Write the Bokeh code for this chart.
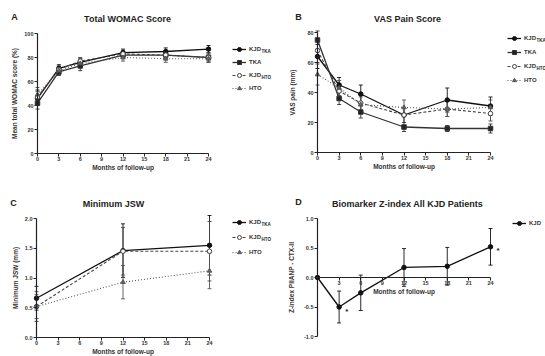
from bokeh.plotting import figure
from bokeh.models import (Range1d, LinearAxis, FixedTicker, Whisker, ColumnDataSource,
                          Legend, LegendItem, Label, TeeHead)
from bokeh.layouts import gridplot
from bokeh.core.properties import value
from bokeh.embed import file_html
from bokeh.resources import INLINE

FONT = "Liberation Sans"

# ---------------- data ----------------
months = [0, 3, 6, 12, 18, 24]
months_jsw = [0, 12, 24]
x_ticks = [0, 3, 6, 9, 12, 15, 18, 21, 24]
x_tick_labels = ["0", "3", "6", "9", "12", "15", "18", "21", "24"]
x_tick_labels_d = ["", "3", "6", "9", "12", "15", "18", "21", "24"]

# Panel A: Total WOMAC score (%)
womac_kjd_tka = [46, 71, 76, 84, 85, 87]
womac_tka = [42, 68, 73, 82, 82, 80]
womac_kjd_hto = [47, 70, 77, 83, 82, 80]
womac_hto = [49, 69, 75, 80, 79, 79]
womac_kjd_tka_err = [6, 3, 3, 3, 3, 3]
womac_tka_err = [5, 3, 4, 3, 3, 3]
womac_kjd_hto_err = [6, 3, 3, 3, 4, 4]
womac_hto_err = [6, 3, 3, 3, 3, 3]
womac_y_ticks = [0, 20, 40, 60, 80, 100]
womac_y_labels = ["0", "20", "40", "60", "80", "100"]

# Panel B: VAS pain (mm)
vas_kjd_tka = [64, 45, 39, 25, 35, 31]
vas_tka = [75, 36, 27, 17, 16, 16]
vas_kjd_hto = [68, 41, 33, 25, 29, 26]
vas_hto = [52, 43, 32, 30, 29, 30]
vas_kjd_tka_err = [8, 5, 6, 5, 8, 6]
vas_tka_err = [6, 4, 4, 3, 2, 3]
vas_kjd_hto_err = [8, 5, 5, 5, 5, 5]
vas_hto_err = [7, 5, 5, 5, 5, 5]
vas_y_ticks = [0, 20, 40, 60, 80]
vas_y_labels = ["0", "20", "40", "60", "80"]

# Panel C: Minimum JSW (mm)
jsw_kjd_tka = [0.66, 1.46, 1.55]
jsw_kjd_hto = [0.52, 1.45, 1.45]
jsw_hto = [0.52, 0.93, 1.12]
jsw_kjd_tka_err = [0.2, 0.45, 0.5]
jsw_kjd_hto_err = [0.25, 0.4, 0.5]
jsw_hto_err = [0.2, 0.28, 0.3]
jsw_y_ticks = [0.0, 0.5, 1.0, 1.5, 2.0]
jsw_y_labels = ["0.0", "0.5", "1.0", "1.5", "2.0"]

# Panel D: Biomarker Z-index
z_kjd = [0.0, -0.50, -0.26, 0.17, 0.19, 0.52]
z_kjd_err = [0.0, 0.27, 0.3, 0.32, 0.32, 0.31]
z_signif_months = [3, 24]
z_y_ticks = [-1.0, -0.5, 0.0, 0.5, 1.0]
z_y_labels = ["-1.0", "-0.5", "0.0", "0.5", "1.0"]

# ---------------- styles ----------------
ST = {
    "KJD_TKA": dict(marker="circle", fill="#111111", color="#111111", dash="solid", width=1.3),
    "TKA": dict(marker="square", fill="#222222", color="#333333", dash="solid", width=1.3),
    "KJD_HTO": dict(marker="circle", fill="white", color="#444444", dash="3 2", width=1.1),
    "HTO": dict(marker="triangle", fill="#666666", color="#555555", dash="1 2", width=1.1),
    "KJD": dict(marker="circle", fill="#111111", color="#111111", dash="solid", width=1.3),
}


def make_panel(w, h, x0px, x24px, ylo, ylo_px, yhi, yhi_px, y_ticks, y_labels, ylabel,
               ylabel_standoff, x_fixed, xlabels):
    sx = (x24px - x0px) / 24.0
    sy = (ylo_px - yhi_px) / float(yhi - ylo)
    xr = Range1d(0 - x0px / sx, 24 + (w - x24px) / sx)
    yr = Range1d(ylo - (h - ylo_px) / sy, yhi + yhi_px / sy)
    p = figure(width=w, height=h, x_range=xr, y_range=yr,
               x_axis_type=None, y_axis_type=None, output_backend="svg",
               toolbar_location=None, min_border=0, min_border_left=0, min_border_right=0,
               min_border_top=0, min_border_bottom=0)
    p.outline_line_color = None
    p.background_fill_color = "white"
    p.border_fill_color = "white"
    xa = LinearAxis(ticker=FixedTicker(ticks=x_ticks), bounds=(0, 24),
                    fixed_location=x_fixed, axis_label="Months of follow-up",
                    major_label_overrides=dict(zip(x_ticks, xlabels)))
    ya = LinearAxis(ticker=FixedTicker(ticks=y_ticks), bounds=(y_ticks[0], y_ticks[-1]),
                    fixed_location=0, axis_label=ylabel,
                    major_label_overrides=dict(zip(y_ticks, y_labels)))
    for ax in (xa, ya):
        ax.axis_line_color = "#222222"
        ax.axis_line_width = 1.2
        ax.major_tick_line_color = "#222222"
        ax.major_tick_line_width = 1.0
        ax.major_tick_out = 3
        ax.major_tick_in = 0
        ax.minor_tick_out = 0
        ax.minor_tick_in = 0
        ax.major_label_text_font = FONT
        ax.major_label_text_font_size = "5.5px"
        ax.major_label_text_font_style = "bold"
        ax.major_label_text_color = "#333333"
        ax.major_label_standoff = 1
        ax.axis_label_text_font = FONT
        ax.axis_label_text_font_size = "6.5px"
        ax.axis_label_text_font_style = "bold"
        ax.axis_label_text_color = "#333333"
    xa.major_label_standoff = 0
    xa.axis_label_standoff = 0
    ya.axis_label_standoff = ylabel_standoff
    p.add_layout(xa, "below")
    p.add_layout(ya, "left")
    return p


def add_series(p, xs, ys, errs, key):
    s = ST[key]
    src = ColumnDataSource(dict(x=xs, y=ys,
                                upper=[a + b for a, b in zip(ys, errs)],
                                lower=[a - b for a, b in zip(ys, errs)]))
    wk = Whisker(source=src, base="x", upper="upper", lower="lower",
                 line_color=s["color"], line_width=0.9,
                 upper_head=TeeHead(size=4, line_color=s["color"], line_width=0.9),
                 lower_head=TeeHead(size=4, line_color=s["color"], line_width=0.9))
    p.add_layout(wk)
    lr = p.line(x="x", y="y", source=src, line_color=s["color"], line_width=s["width"],
                line_dash=s["dash"])
    mr = p.scatter(x="x", y="y", source=src, marker=s["marker"], size=4.5,
                   fill_color=s["fill"], line_color=s["color"], line_width=1)
    return [lr, mr]


def canvas_label(p, h, cx, cy, text, size, align="center", bold=True):
    # frame == whole canvas, so screen units are canvas px measured from bottom-left
    p.add_layout(Label(x=cx, y=h - cy, x_units="screen", y_units="screen",
                       text=text, text_font=FONT, text_font_size=size,
                       text_font_style="bold" if bold else "normal",
                       text_align=align, text_baseline="middle", text_color="#222222"))


def add_legend(p, h, entries, renderers, gx, top_y, gh, spacing):
    n = len(entries)
    H = n * gh + (n - 1) * spacing
    items = [LegendItem(label=value(main), renderers=r) for (main, sub), r in zip(entries, renderers)]
    gw, stand = 14, 3
    lg = Legend(items=items, location=(gx, h - (top_y + H)),
                padding=0, margin=0, spacing=spacing, glyph_height=gh, glyph_width=gw,
                label_height=gh, label_standoff=stand, label_text_font=FONT,
                label_text_font_size="6px", label_text_font_style="bold",
                label_text_color="#333333", border_line_color=None,
                background_fill_alpha=0)
    p.add_layout(lg)
    for i, (main, sub) in enumerate(entries):
        if sub:
            cy = top_y + i * (gh + spacing) + gh / 2 + 2
            canvas_label(p, h, gx + gw + stand + 12, cy, sub, "4.5px", align="left")


group_entries = [("KJD", "TKA"), ("TKA", ""), ("KJD", "HTO"), ("HTO", "")]
H = 178

# ---------------- Panel A ----------------
pA = make_panel(272, H, 37, 208, 0, 153, 100, 33, womac_y_ticks, womac_y_labels,
                "Mean total WOMAC score (%)", 3, 0, x_tick_labels)
rA = [add_series(pA, months, womac_kjd_tka, womac_kjd_tka_err, "KJD_TKA"),
      add_series(pA, months, womac_tka, womac_tka_err, "TKA"),
      add_series(pA, months, womac_kjd_hto, womac_kjd_hto_err, "KJD_HTO"),
      add_series(pA, months, womac_hto, womac_hto_err, "HTO")]
canvas_label(pA, H, 127, 18, "Total WOMAC Score", "9px")
canvas_label(pA, H, 14, 16, "A", "9px")
add_legend(pA, H, group_entries, rA, gx=232, top_y=44, gh=10, spacing=3)

# ---------------- Panel B ----------------
pB = make_panel(273, H, 45, 218, 0, 152, 80, 32, vas_y_ticks, vas_y_labels,
                "VAS pain (mm)", 8, 0, x_tick_labels)
rB = [add_series(pB, months, vas_kjd_tka, vas_kjd_tka_err, "KJD_TKA"),
      add_series(pB, months, vas_tka, vas_tka_err, "TKA"),
      add_series(pB, months, vas_kjd_hto, vas_kjd_hto_err, "KJD_HTO"),
      add_series(pB, months, vas_hto, vas_hto_err, "HTO")]
canvas_label(pB, H, 135, 18, "VAS Pain Score", "9px")
canvas_label(pB, H, 26, 16, "B", "9px")
add_legend(pB, H, group_entries, rB, gx=235, top_y=33, gh=10, spacing=4)

# ---------------- Panel C ----------------
pC = make_panel(272, H, 36, 209, 0.0, 159, 2.0, 40, jsw_y_ticks, jsw_y_labels,
                "Minimum JSW (mm)", 3, 0, x_tick_labels)
rC = [add_series(pC, months_jsw, jsw_kjd_tka, jsw_kjd_tka_err, "KJD_TKA"),
      add_series(pC, months_jsw, jsw_kjd_hto, jsw_kjd_hto_err, "KJD_HTO"),
      add_series(pC, months_jsw, jsw_hto, jsw_hto_err, "HTO")]
canvas_label(pC, H, 113, 25, "Minimum JSW", "9px")
canvas_label(pC, H, 13, 24, "C", "9px")
add_legend(pC, H, [("KJD", "TKA"), ("KJD", "HTO"), ("HTO", "")], rC,
           gx=232, top_y=39, gh=10, spacing=5)

# ---------------- Panel D ----------------
pD = make_panel(273, H, 45, 218, -1.0, 158, 1.0, 40, z_y_ticks, z_y_labels,
                "Z-index PIIANP - CTX-II", 6, 0, x_tick_labels_d)
rD = [add_series(pD, months, z_kjd, z_kjd_err, "KJD")]
sig_y = [z_kjd[months.index(m)] for m in z_signif_months]
pD.text(x=z_signif_months, y=sig_y, text=["*"] * len(z_signif_months), x_offset=6,
        y_offset=4, text_font=value(FONT), text_font_size="8px", text_font_style="bold",
        text_color="#222222", text_baseline="middle")
canvas_label(pD, H, 135, 25, "Biomarker Z-index All KJD Patients", "9px")
canvas_label(pD, H, 26, 23, "D", "9px")
add_legend(pD, H, [("KJD", "")], rD, gx=240, top_y=40, gh=10, spacing=4)

layout = gridplot([[pA, pB], [pC, pD]], toolbar_location=None)
open("out.html", "w").write(file_html(layout, INLINE))
